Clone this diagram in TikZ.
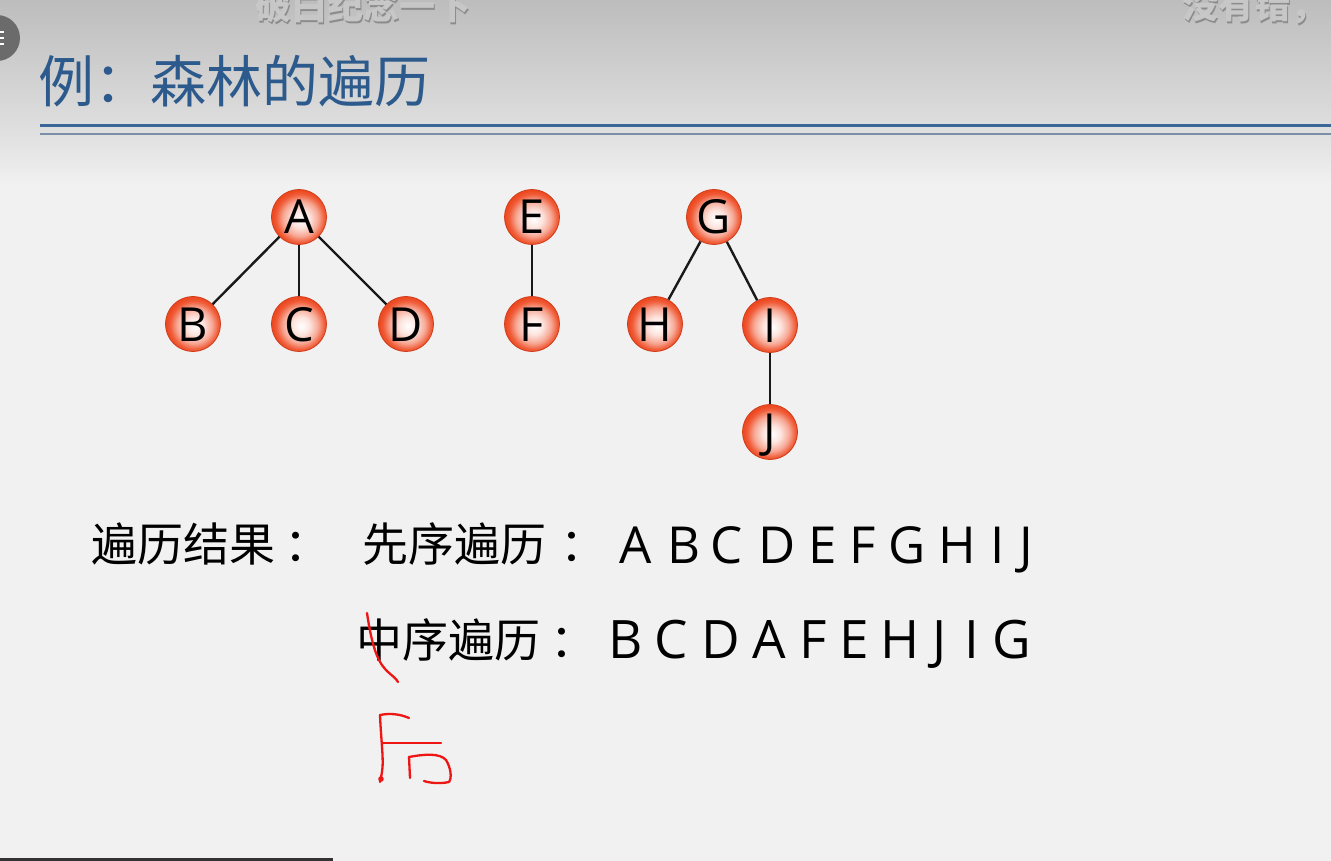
\documentclass[tikz,border=0pt]{standalone}
\usepackage{fontspec}
\newfontfamily\cjk{Noto Sans CJK SC}
\newfontfamily\lat{Open Sans}
\definecolor{bgc}{HTML}{F1F1F1}
\definecolor{titleblue}{HTML}{2C5A8C}
\definecolor{lineblue}{HTML}{3B6699}
\definecolor{linegray}{HTML}{7A8FA8}
\definecolor{nodered}{HTML}{EE4A22}
\definecolor{noderim}{HTML}{D03C1A}
\definecolor{inkred}{HTML}{EE1515}
\pgfdeclareradialshading{nodeball}{\pgfpoint{2bp}{-2bp}}{color(0bp)=(white); color(8bp)=(nodered!15!white); color(16bp)=(nodered!48!white); color(22bp)=(nodered!90!white); color(25bp)=(nodered); color(50bp)=(nodered)}
\tikzset{
  tnode/.style={circle, minimum size=55pt, inner sep=0pt, shading=nodeball, draw=noderim, line width=0.8pt,
    font=\lat\fontsize{47}{47}\selectfont, text height=34pt, text depth=0pt},
  tedge/.style={draw=black!90, line width=2.4pt},
  cjktext/.style={font=\cjk\fontsize{46}{46}\selectfont, inner sep=0pt, anchor=west},
  seqA/.style={font=\lat\fontsize{51}{51}\selectfont, inner sep=0pt, anchor=base},
  seqB/.style={font=\lat\fontsize{53}{53}\selectfont, inner sep=0pt, anchor=base},
  danmu/.style={font=\cjk\bfseries\fontsize{36}{36}\selectfont, inner sep=0pt, anchor=west},
  ink/.style={draw=inkred, line width=2.3pt, line cap=round, line join=round}
}
\begin{document}
\begin{tikzpicture}[x=1pt, y=-1pt]
\useasboundingbox (0,0) rectangle (1331,861);
\fill[bgc] (0,0) rectangle (1331,861);
\shade[top color=black!26, bottom color=black!12] (0,0) rectangle (1331,135);
\shade[top color=black!12, bottom color=bgc] (0,135) rectangle (1331,185);
% danmaku
\node[danmu, text=black!45] (dm1s) at (256.5,7.5) {破白纪念一下};
\node[danmu, text=black!22] (dm1) at (255,6) {破白纪念一下};
\node[danmu, text=black!45] (dm2s) at (1183.5,7.5) {没有错，};
\node[danmu, text=black!22] (dm2) at (1182,6) {没有错，};
% ui circle
\fill[black!58] (-3,38) circle (23);
\draw[white, line width=1.6pt] (-2,32) -- (4,32) (-2,38) -- (4,38) (-2,44) -- (4,44);
% title
\node[font=\cjk\fontsize{56}{56}\selectfont, text=titleblue, inner sep=0pt, anchor=west] (title) at (38,81) {例：森林的遍历};
\draw[lineblue, line width=3pt] (40,125.5) -- (1331,125.5);
\draw[linegray, line width=2pt] (40,134) -- (1331,134);
% trees
\node[tnode] (A) at (299,217) {A};
\node[tnode] (B) at (193,324) {B};
\node[tnode] (C) at (299,324) {C};
\node[tnode] (D) at (406,324) {D};
\node[tnode] (E) at (532,217) {E};
\node[tnode] (F) at (532,324) {F};
\node[tnode] (G) at (714,217) {G};
\node[tnode] (H) at (655,324) {H};
\node[tnode] (I) at (770,325) {I};
\node[tnode, text height=31pt] (J) at (770,432) {J};
\draw[tedge] (A) -- (B);
\draw[tedge] (A) -- (C);
\draw[tedge] (A) -- (D);
\draw[tedge] (E) -- (F);
\draw[tedge] (G) -- (H);
\draw[tedge] (G) -- (I);
\draw[tedge] (I) -- (J);
% results
\node[cjktext] (res) at (91,544) {遍历结果\kern9pt ：};
\node[cjktext] (pre) at (362,544) {先序遍历\kern14pt ：};
\node[cjktext] (mid) at (356,640) {中序遍历\kern10pt ：};
\foreach \c/\x [count=\i] in {A/636,B/684,C/727,D/777,E/823,F/863,G/907,H/957,I/998,J/1026}
  \node[seqA] (p\i) at (\x,563) {\c};
\foreach \c/\x [count=\i] in {B/626,C/671,D/721,A/769,F/813,E/854,H/900,J/940,I/972,G/1012}
  \node[seqB] (m\i) at (\x,658) {\c};
% handwriting
\draw[ink] (367,613) .. controls (371,640) and (376,660) .. (386,670) .. controls (392,676) and (396,678) .. (398,682);
\draw[ink] (380,715) .. controls (390,713) and (400,714) .. (409,718);
\draw[ink] (380,715) .. controls (381,740) and (384,760) .. (382,772) .. controls (381,778) and (380,781) .. (380,782);
\fill[inkred] (381,779) circle (2.8);
\draw[ink] (383,743) -- (441,743);
\draw[ink] (409,757) -- (410,778);
\draw[ink] (409,757) .. controls (425,754) and (440,753) .. (446,760) .. controls (451,768) and (452,778) .. (449,782) .. controls (440,784) and (430,783) .. (424,781);
% bottom bar
\fill[black!80] (0,858) rectangle (333,861);
\end{tikzpicture}
\end{document}
